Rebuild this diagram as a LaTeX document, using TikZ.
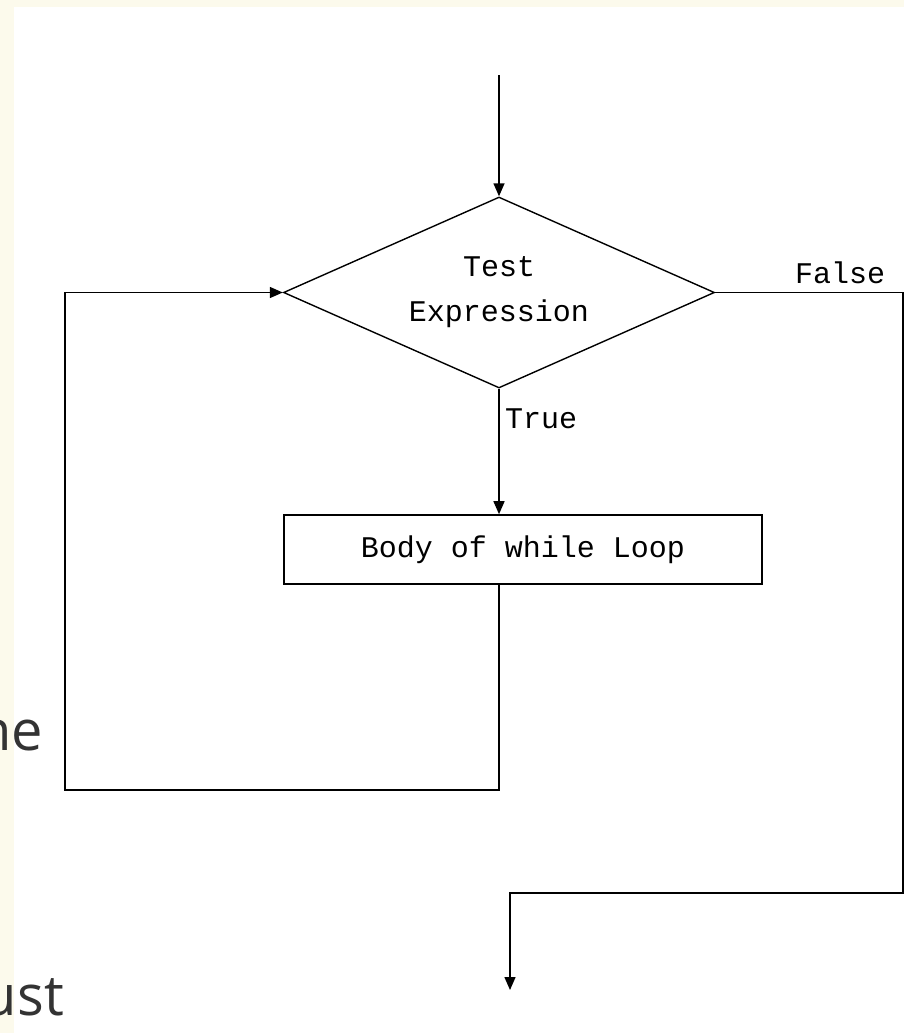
\documentclass[tikz,border=0pt]{standalone}
\usepackage{fontspec}
\setmonofont{Liberation Mono}
\newfontfamily\pagefont{Open Sans}
\usetikzlibrary{shapes.geometric,arrows.meta}
\definecolor{pagecream}{RGB}{252,250,236}
\definecolor{pagetext}{RGB}{51,51,51}
\begin{document}
\begin{tikzpicture}[x=1pt,y=-1pt,
  flow/.style={line width=1.4pt, draw=black},
  arrowline/.style={flow, -{Triangle[width=11pt,length=13pt]}},
  chartfont/.style={font=\ttfamily\fontsize{30}{45}\selectfont, text=black},
  decision/.style={shape=diamond, aspect=2.26, draw, line width=1.4pt, inner sep=0pt,
    minimum width=431pt, minimum height=191pt, align=center, chartfont},
  process/.style={shape=rectangle, draw, line width=1.6pt, inner sep=0pt,
    minimum width=478pt, minimum height=69pt, chartfont},
  branchlabel/.style={inner sep=0pt, chartfont},
  pageword/.style={inner sep=0pt, anchor=base east, text=pagetext,
    font=\pagefont\fontsize{56}{64}\selectfont}
]
% page frame
\useasboundingbox (0,0) rectangle (904,1033);
\clip (0,0) rectangle (904,1033);
\fill[white] (0,0) rectangle (904,1033);
\fill[pagecream] (0,0) rectangle (904,7);
\fill[pagecream] (0,0) rectangle (14,1033);

% fragments of surrounding page text
\node[pageword] (wordne) at (43,750) {ne};
\node[pageword] (wordust) at (64,1015) {ust};

% flowchart nodes
\node[decision] (test) at (499,292.5) {Test\\Expression};
\node[process] (body) at (523,549.5) {Body of while Loop};
\node[branchlabel] (truelabel) at (541,419) {True};
\node[branchlabel] (falselabel) at (840,273) {False};

% helper points for the connectors
\coordinate (entry) at (499,75);
\coordinate (loopcorner) at (65,790);
\coordinate (rightcorner) at (903,893);
\coordinate (exit) at (510,990);

% connectors
\draw[arrowline] (entry) -- (test.north);
\draw[arrowline] (test.south) -- (test.south |- body.north);
\draw[arrowline] (test.south |- body.south) |- (loopcorner) |- (test.west);
\draw[arrowline] (test.east) -| (rightcorner) -| (exit);
\end{tikzpicture}
\end{document}
